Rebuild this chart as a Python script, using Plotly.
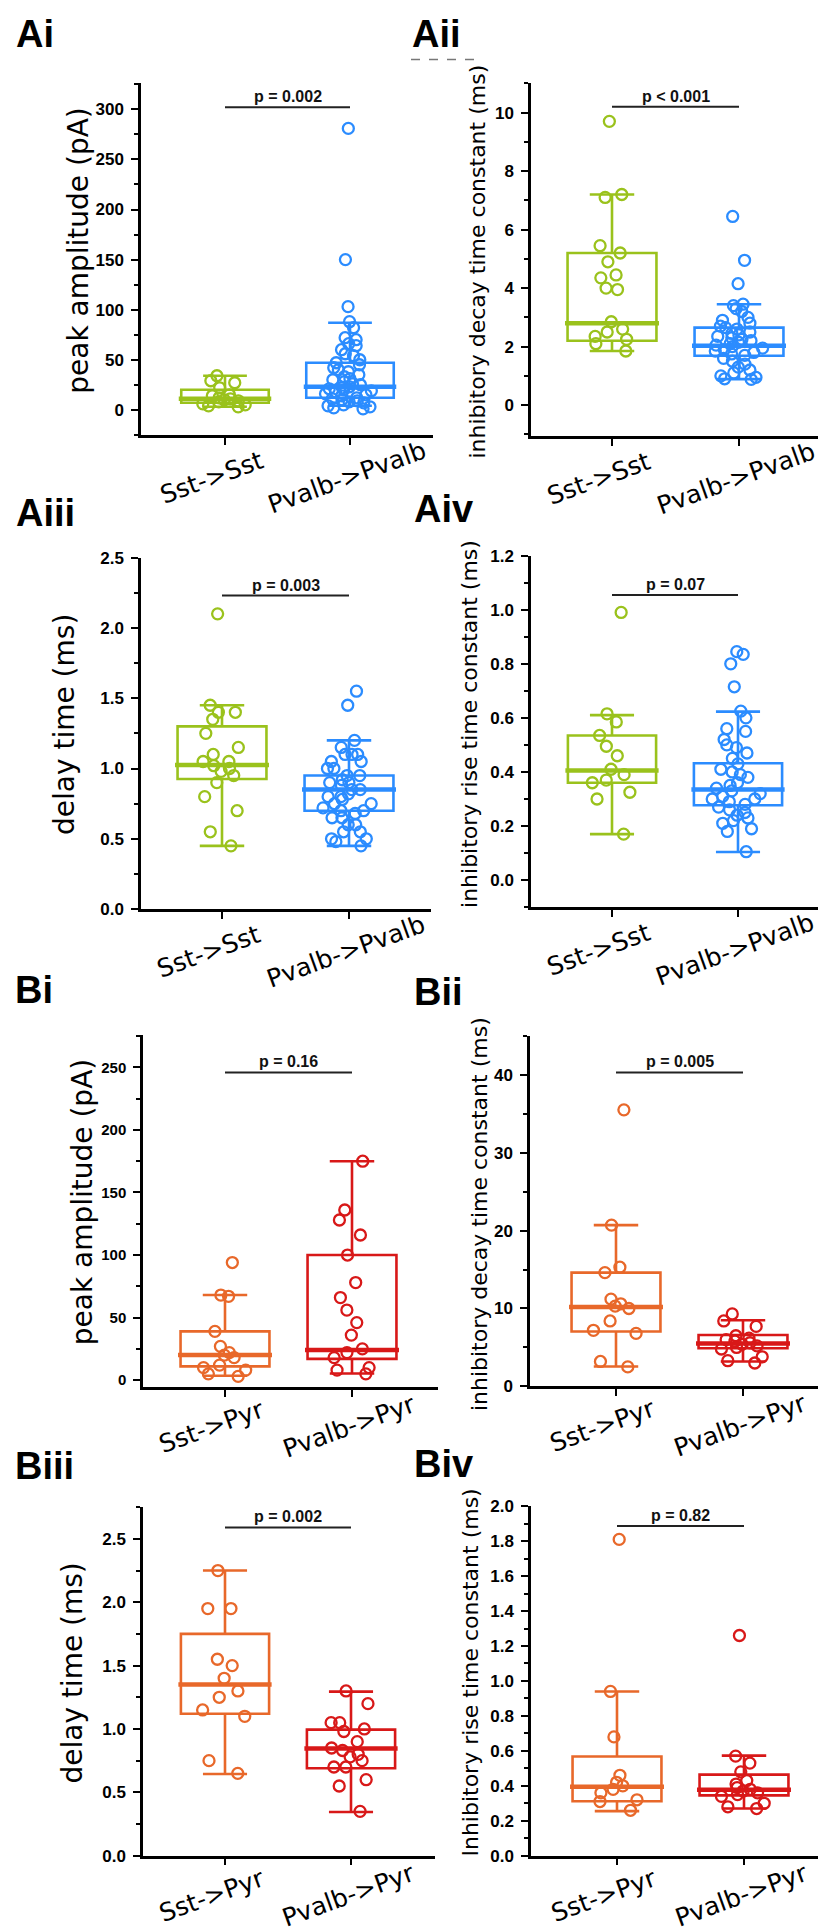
import plotly.graph_objects as go

W, H = 826, 1930

# ---------------- data ----------------
panel_names = ["Ai", "Aii", "Aiii", "Aiv", "Bi", "Bii", "Biii", "Biv"]
y_titles = ["peak amplitude (pA)", "inhibitory decay time constant (ms)",
            "delay time (ms)", "inhibitory rise time constant (ms)",
            "peak amplitude (pA)", "inhibitory decay time constant (ms)",
            "delay time (ms)", "Inhibitory rise time constant (ms)"]
p_texts = ["p = 0.002", "p < 0.001", "p = 0.003", "p = 0.07",
           "p = 0.16", "p = 0.005", "p = 0.002", "p = 0.82"]
p_bar_y = [302, 10.2, 2.23, 1.054, 246, 40.3, 2.59, 1.887]
cats_A = ["Sst->Sst", "Pvalb->Pvalb"]
cats_B = ["Sst->Pyr", "Pvalb->Pyr"]

# box stats: q1, median, q3, lower whisker, upper whisker
ai_sst = [34, 29, 27, 22, 15, 14, 12, 11, 10, 9, 8, 6, 5, 4, 3]
ai_sst_stats = [7, 11, 20, 3, 34]
ai_pv = [281, 150, 103, 88, 82, 72, 70, 66, 64, 60, 56, 54, 50, 47, 45, 42, 40, 38,
         35, 33, 31, 30, 28, 26, 25, 23, 22, 21, 20, 19, 18, 16, 15, 14, 12, 11, 10,
         9, 8, 7, 5, 4, 3, 2, 1]
ai_pv_stats = [12, 23, 47, 4, 87]

aii_sst = [9.7, 7.2, 7.1, 5.45, 5.2, 4.9, 4.45, 4.35, 4.0, 3.95, 2.85, 2.6, 2.5,
           2.35, 2.25, 2.1, 1.85]
aii_sst_stats = [2.2, 2.8, 5.2, 1.85, 7.2]
aii_pv = [6.45, 4.95, 4.15, 3.45, 3.4, 3.3, 3.2, 3.0, 2.9, 2.8, 2.7, 2.65, 2.6, 2.5,
          2.45, 2.4, 2.35, 2.3, 2.25, 2.2, 2.15, 2.1, 2.05, 2.0, 1.95, 1.9, 1.85, 1.8,
          1.75, 1.7, 1.6, 1.5, 1.4, 1.3, 1.2, 1.1, 1.0, 0.95, 0.9, 0.88]
aii_pv_stats = [1.69, 2.03, 2.65, 0.89, 3.45]

aiii_sst = [2.1, 1.45, 1.4, 1.4, 1.35, 1.25, 1.15, 1.1, 1.05, 1.05, 1.02, 1.0, 0.98,
            0.95, 0.9, 0.8, 0.7, 0.55, 0.45]
aiii_sst_stats = [0.925, 1.025, 1.3, 0.45, 1.45]
aiii_pv = [1.55, 1.45, 1.2, 1.15, 1.1, 1.1, 1.1, 1.05, 1.05, 1.0, 1.0, 0.95, 0.95,
           0.92, 0.9, 0.9, 0.88, 0.85, 0.85, 0.82, 0.8, 0.8, 0.78, 0.75, 0.75, 0.72,
           0.7, 0.7, 0.68, 0.65, 0.65, 0.6, 0.6, 0.55, 0.55, 0.5, 0.5, 0.48, 0.45]
aiii_pv_stats = [0.70, 0.85, 0.95, 0.45, 1.2]

aiv_sst = [0.99, 0.615, 0.585, 0.535, 0.495, 0.46, 0.41, 0.39, 0.37, 0.36, 0.325,
           0.3, 0.17]
aiv_sst_stats = [0.36, 0.405, 0.535, 0.17, 0.61]
aiv_pv = [0.845, 0.835, 0.80, 0.715, 0.625, 0.60, 0.56, 0.55, 0.52, 0.50, 0.49, 0.47,
          0.45, 0.43, 0.41, 0.40, 0.39, 0.38, 0.36, 0.35, 0.34, 0.33, 0.32, 0.31, 0.30,
          0.30, 0.29, 0.28, 0.27, 0.26, 0.25, 0.24, 0.23, 0.22, 0.21, 0.19, 0.18, 0.105]
aiv_pv_stats = [0.277, 0.335, 0.432, 0.104, 0.623]

bi_sst = [94, 68, 67, 39, 27, 22, 20, 18, 12, 10, 8, 5, 3]
bi_sst_stats = [11, 20, 39, 3.5, 68]
bi_pv = [175, 136, 128, 116, 100, 78, 66, 56, 46, 36, 25, 22, 18, 10, 8, 5]
bi_pv_stats = [17, 24, 100, 5.3, 175]

bii_sst = [35.5, 20.7, 15.3, 14.6, 11.2, 10.6, 10.3, 10.0, 8.4, 7.2, 6.8, 3.2, 2.5]
bii_sst_stats = [7.05, 10.2, 14.6, 2.55, 20.7]
bii_pv = [9.3, 8.4, 7.7, 6.5, 6.2, 6.0, 5.8, 5.6, 5.4, 5.2, 5.0, 4.8, 3.8, 3.3, 3.0]
bii_pv_stats = [4.9, 5.5, 6.6, 3.2, 8.5]

biii_sst = [2.25, 1.95, 1.95, 1.55, 1.5, 1.4, 1.3, 1.25, 1.15, 1.1, 0.75, 0.65]
biii_sst_stats = [1.12, 1.35, 1.75, 0.645, 2.25]
biii_pv = [1.3, 1.2, 1.05, 1.05, 1.0, 0.98, 0.9, 0.85, 0.83, 0.8, 0.78, 0.75, 0.7,
           0.7, 0.6, 0.55, 0.35]
biii_pv_stats = [0.69, 0.845, 0.995, 0.345, 1.295]

biv_sst = [1.81, 0.94, 0.68, 0.46, 0.42, 0.40, 0.38, 0.36, 0.32, 0.31, 0.26]
biv_sst_stats = [0.312, 0.395, 0.568, 0.255, 0.94]
biv_pv = [1.26, 0.57, 0.53, 0.48, 0.43, 0.41, 0.39, 0.38, 0.37, 0.36, 0.35, 0.34,
          0.30, 0.28, 0.27]
biv_pv_stats = [0.345, 0.378, 0.464, 0.27, 0.573]

# major tick ranges per panel: (start, stop, step)
y_major = [(0, 300, 50), (0, 10, 2), (0, 2.5, 0.5), (0, 1.2, 0.2),
           (0, 250, 50), (0, 40, 10), (0, 2.5, 0.5), (0, 2.0, 0.2)]

# ---------------- styling / layout ----------------
GREEN, BLUE = "#9AC21C", "#2B8CFF"
ORANGE, RED = "#E8682A", "#D81818"

series = [
    (ai_sst, ai_sst_stats, ai_pv, ai_pv_stats),
    (aii_sst, aii_sst_stats, aii_pv, aii_pv_stats),
    (aiii_sst, aiii_sst_stats, aiii_pv, aiii_pv_stats),
    (aiv_sst, aiv_sst_stats, aiv_pv, aiv_pv_stats),
    (bi_sst, bi_sst_stats, bi_pv, bi_pv_stats),
    (bii_sst, bii_sst_stats, bii_pv, bii_pv_stats),
    (biii_sst, biii_sst_stats, biii_pv, biii_pv_stats),
    (biv_sst, biv_sst_stats, biv_pv, biv_pv_stats),
]

# pixel geometry: plot area (x0, x1, ytop, ybottom), category pixel centres
geom = [(133, 425, 67, 422), (523, 813, 67, 423), (133, 423, 546, 901),
        (523, 815, 544, 899), (135, 430, 1028, 1384), (522, 823, 1029, 1383),
        (135, 427, 1505, 1857), (523, 823, 1504, 1857)]
cat_px = [(217, 342), (604, 731), (214, 341), (604, 730), (217, 344), (608, 735),
          (217, 343), (609, 736)]
y_ranges = [[-25, 326], [-1.05, 11], [0, 2.5], [-0.1, 1.2], [-5.8, 276], [0, 45],
            [0, 2.75], [0, 2.0]]
minor_dt = [25, 1, 0.25, 0.1, 25, 5, 0.25, 0.1]
tick_fmt = ["{:d}", "{:d}", "{:.1f}", "{:.1f}", "{:d}", "{:d}", "{:.1f}", "{:.1f}"]
tick_size = [17, 17, 17, 17, 15, 17, 17, 17]
title_size = [28, 22, 28, 22, 28, 22, 28, 22]
title_pos = [(71, 236), (470, 247), (57, 715), (462, 714), (74, 1197), (471, 1209),
             (65, 1673), (463, 1672)]
label_pos = [(6, 17), (402, 17), (6, 501), (404, 497), (5, 983), (404, 985),
             (5, 1463), (404, 1461)]

FONT = "DejaVu Sans"
TFONT = "Liberation Sans"

fig = go.Figure()
layout = dict(width=W, height=H, margin=dict(l=0, r=0, t=0, b=0),
              paper_bgcolor="white", plot_bgcolor="white", showlegend=False)
annotations = []
shapes = []


def px2x(p):
    return p / W


def px2y(p):
    return 1 - p / H


for k in range(8):
    n = "" if k == 0 else str(k + 1)
    xa, ya = "x" + n, "y" + n
    x0, x1, yt, yb = geom[k]
    c0, c1 = cat_px[k]
    u = c1 - c0
    xr = [(x0 - c0) / u, 1 + (x1 - c1) / u]
    start, stop, step = y_major[k]
    nt = int(round((stop - start) / step)) + 1
    tv = [start + i * step for i in range(nt)]
    if tick_fmt[k] == "{:d}":
        tt = [str(int(round(v))) for v in tv]
    else:
        tt = [tick_fmt[k].format(v) for v in tv]

    layout["xaxis" + n] = dict(
        domain=[px2x(x0), px2x(x1)], range=xr, anchor=ya,
        showline=True, linewidth=2.5, linecolor="black",
        ticks="outside", ticklen=7, tickwidth=2, tickcolor="black",
        tickvals=[0, 1], showticklabels=False, showgrid=False, zeroline=False,
        fixedrange=True)
    layout["yaxis" + n] = dict(
        domain=[px2y(yb), px2y(yt)], range=y_ranges[k], anchor=xa,
        showline=True, linewidth=2.5, linecolor="black",
        ticks="outside", ticklen=7, tickwidth=2, tickcolor="black",
        tickvals=tv, ticktext=tt, ticklabelstandoff=4,
        tickfont=dict(family=TFONT, size=tick_size[k], color="black", weight="bold"),
        minor=dict(dtick=minor_dt[k], tick0=0, ticks="outside", ticklen=4,
                   tickwidth=1.5, tickcolor="black", showgrid=False),
        showgrid=False, zeroline=False, fixedrange=True)

    is_A = k < 4
    cols = (GREEN, BLUE) if is_A else (ORANGE, RED)
    cats = cats_A if is_A else cats_B
    s_vals, s_stats, p_vals_, p_stats = series[k]
    for pos, vals, st, col in ((0, s_vals, s_stats, cols[0]), (1, p_vals_, p_stats, cols[1])):
        fig.add_trace(go.Box(
            x=[pos], y=[vals], q1=[st[0]], median=[st[1]], q3=[st[2]],
            lowerfence=[st[3]], upperfence=[st[4]],
            boxpoints="all", jitter=0.6, pointpos=0, width=0.7, whiskerwidth=0.5,
            line=dict(color=col, width=2.6), fillcolor="rgba(0,0,0,0)",
            marker=dict(symbol="circle-open", size=11, color=col, line=dict(width=2.3)),
            xaxis=xa, yaxis=ya, hoverinfo="skip"))
        fig.add_trace(go.Scatter(
            x=[pos - 0.37, pos + 0.37], y=[st[1], st[1]], mode="lines",
            line=dict(color=col, width=4.5), xaxis=xa, yaxis=ya, hoverinfo="skip"))
        # category label
        annotations.append(dict(
            text=cats[pos], xref=xa, yref="paper", x=pos,
            y=px2y(yb + (43 if is_A else 40)), xshift=(-13 if pos == 0 else -3),
            showarrow=False, textangle=-20, xanchor="center", yanchor="middle",
            font=dict(family=FONT, size=25, color="black")))

    # significance bar
    fig.add_trace(go.Scatter(
        x=[0, 1], y=[p_bar_y[k], p_bar_y[k]], mode="lines",
        line=dict(color="#222222", width=2), xaxis=xa, yaxis=ya, hoverinfo="skip"))
    annotations.append(dict(
        text=p_texts[k], xref=xa, yref=ya, x=0.5, y=p_bar_y[k],
        showarrow=False, xanchor="center", yanchor="bottom", yshift=0,
        font=dict(family=TFONT, size=16, color="#111111", weight="bold")))

    # y-axis title
    tx, ty = title_pos[k]
    annotations.append(dict(
        text=y_titles[k], xref="paper", yref="paper", x=px2x(tx), y=px2y(ty),
        showarrow=False, textangle=-90, xanchor="center", yanchor="middle",
        font=dict(family=FONT, size=title_size[k], color="black")))

    # panel label
    lx, ly = label_pos[k]
    annotations.append(dict(
        text=panel_names[k], xref="paper", yref="paper", x=px2x(lx), y=px2y(ly),
        showarrow=False, xanchor="left", yanchor="middle",
        font=dict(family="Liberation Sans", size=38, color="black", weight="bold")))

# small dashed artefact under the Aii label
shapes.append(dict(type="line", xref="paper", yref="paper",
                   x0=px2x(403), x1=px2x(468), y0=px2y(43), y1=px2y(43),
                   line=dict(color="#777777", width=1.5, dash="dash")))

layout["annotations"] = annotations
layout["shapes"] = shapes
fig.update_layout(**layout)
fig.write_html("out.html")
